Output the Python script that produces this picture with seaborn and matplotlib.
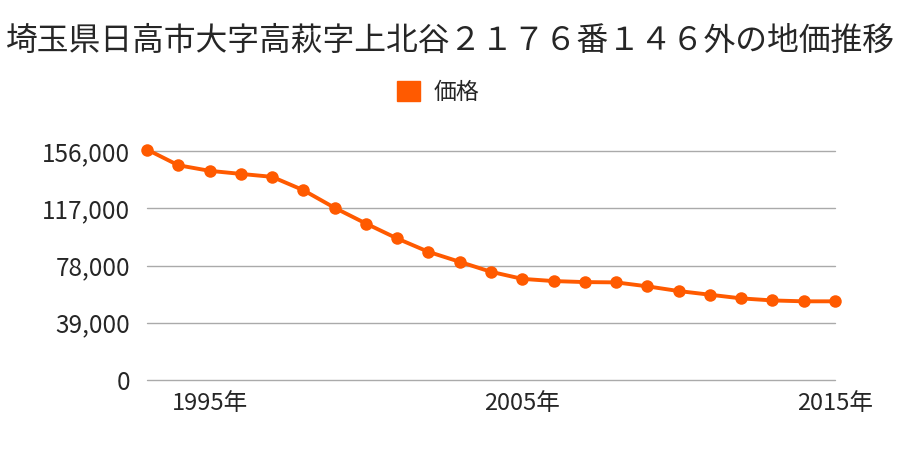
import matplotlib
matplotlib.use("Agg")
import matplotlib.pyplot as plt
import matplotlib.patches as mpatches
import seaborn as sns
import pandas as pd

title = "埼玉県日高市大字高萩字上北谷２１７６番１４６外の地価推移"
series_name = "価格"
years = list(range(1993, 2016))
prices = [157000, 146300, 142500, 140400, 138400, 129300, 117300, 106600,
          96400, 87300, 80500, 73700, 68900, 67400, 66700, 66500,
          63800, 60600, 58100, 55600, 54200, 53600, 53600]
yticks = [0, 39000, 78000, 117000, 156000]
xticks = [1995, 2005, 2015]

sns.set_theme(style="white")
plt.rcParams['font.family'] = ['Noto Sans CJK JP', 'DejaVu Sans']

df = pd.DataFrame({"year": years, "price": prices})
color = "#FF5A00"

fig = plt.figure(figsize=(9, 4.5), dpi=100)
ax = fig.add_axes([147/900, 1-380/450, (835-147)/900, (380-151)/450])

sns.lineplot(data=df, x="year", y="price", ax=ax, color=color, linewidth=2.8,
             marker="o", markersize=9, markeredgewidth=0, clip_on=False, zorder=5)

ax.set_xlim(1993, 2015)
ax.set_ylim(0, 156000)
ax.set_yticks(yticks)
ax.set_yticklabels([f"{v:,}" for v in yticks], fontsize=17.5)
ax.set_xticks(xticks)
ax.set_xticklabels([f"{x}年" for x in xticks], fontsize=17)
ax.tick_params(axis='both', length=0)
ax.tick_params(axis='y', pad=12)
ax.tick_params(axis='x', pad=9)
ax.set_xlabel("")
ax.set_ylabel("")
ax.grid(axis='y', color="#aaaaaa", linewidth=1)
ax.grid(axis='x', visible=False)
for gl in ax.get_ygridlines():
    gl.set_clip_on(False)
for s in ax.spines.values():
    s.set_visible(False)

fig.text(0.5, 1-41/450, title, ha='center', va='center', fontsize=22.9)
handle = mpatches.Patch(color=color, label=series_name)
fig.legend(handles=[handle], loc='center', bbox_to_anchor=(438/900, 1-92.5/450),
           frameon=False, fontsize=16.5, handlelength=1.0, handleheight=1.0,
           handletextpad=0.57)

fig.savefig("out.png", dpi=100)
